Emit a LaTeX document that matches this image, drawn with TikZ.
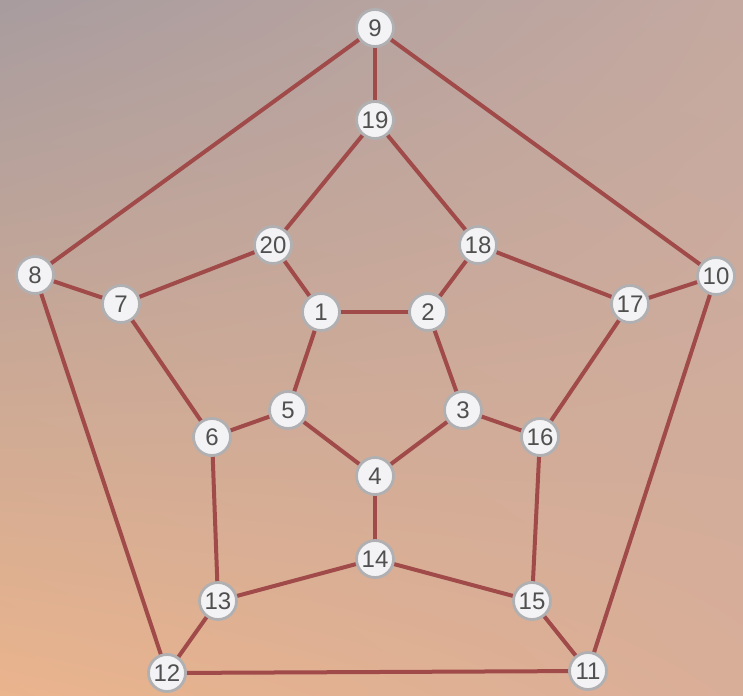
\documentclass[tikz,border=0pt]{standalone}
\usepackage{fontspec}
\setsansfont{Liberation Sans}
\usepackage{tikz}
\usetikzlibrary{shadings}
\definecolor{BgTopLeft}{HTML}{A89C9F}
\definecolor{BgTopRight}{HTML}{C4A9A0}
\definecolor{BgBotLeft}{HTML}{EAB48D}
\definecolor{BgBotRight}{HTML}{D9AE98}
\definecolor{Edge}{HTML}{A04A4A}
\definecolor{VertFill}{HTML}{F3F3F5}
\definecolor{VertLine}{HTML}{B0B0B2}
\definecolor{VertText}{HTML}{505050}
\tikzset{
  vert/.style={circle,fill=VertFill,draw=VertLine,line width=2.8pt,minimum size=37pt,inner sep=0pt,
    text=VertText,font=\sffamily\fontsize{24}{24}\selectfont},
  edge/.style={Edge,line width=4pt}
}

\begin{document}
\begin{tikzpicture}[x=1pt,y=-1pt]
      \shade[upper left=BgTopLeft,upper right=BgTopRight,lower left=BgBotLeft,lower right=BgBotRight]
        (0,0) rectangle (743,695);
      \useasboundingbox (0,0) rectangle (743,695);
      % outer ring
      \coordinate (p9) at (375,28);
      \coordinate (p8) at (35,275);
      \coordinate (p10) at (716,276);
      \coordinate (p12) at (167,673);
      \coordinate (p11) at (588,671);
      % middle ring
      \coordinate (p19) at (375,120);
      \coordinate (p20) at (273,245);
      \coordinate (p18) at (478,245);
      \coordinate (p7) at (121,304);
      \coordinate (p17) at (630,304);
      \coordinate (p6) at (212,437);
      \coordinate (p16) at (540,437);
      \coordinate (p13) at (218,601);
      \coordinate (p14) at (375,559);
      \coordinate (p15) at (532,601);
      % inner ring
      \coordinate (p1) at (321,312);
      \coordinate (p2) at (428,312);
      \coordinate (p3) at (463,410);
      \coordinate (p4) at (375,476);
      \coordinate (p5) at (288,410);
      \foreach \a/\b in {9/19,9/8,9/10,19/20,19/18,20/1,20/7,18/2,18/17,8/7,8/12,10/17,10/11,
          1/2,1/5,2/3,7/6,17/16,5/6,5/4,3/4,3/16,6/13,16/15,4/14,14/13,14/15,13/12,15/11,12/11}
        \draw[edge] (p\a) -- (p\b);
      \foreach \n in {1,...,20}
        \node[vert] (v\n) at (p\n) {\n};
    \end{tikzpicture}
\end{document}
